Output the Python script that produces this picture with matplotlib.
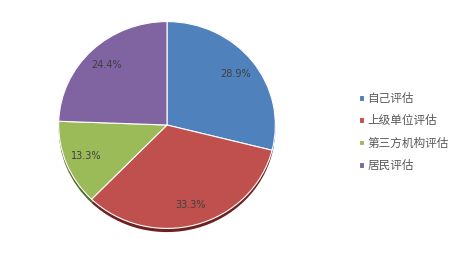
import matplotlib
matplotlib.use("Agg")
import matplotlib.pyplot as plt

plt.rcParams['font.family'] = ['Noto Sans CJK SC', 'DejaVu Sans']

# data
labels = ['自己评估', '上级单位评估', '第三方机构评估', '居民评估']
values = [28.9, 33.3, 13.3, 24.4]
colors = ['#4F81BD', '#C0504D', '#9BBB59', '#8064A2']
shadow_colors = ['#2c4a6e', '#6e2220', '#55692c', '#46365c']

W, H = 465, 265
fig = plt.figure(figsize=(W / 100, H / 100), dpi=100)

# pie centre / radii in pixels
cx, cy, rx, ry = 167, 125, 110, 105
ax = fig.add_axes([(cx - rx) / W, (H - cy - ry) / H, 2 * rx / W, 2 * ry / H])

# darker copy slightly below, gives the shadowed edge
ax.pie(values, colors=shadow_colors, startangle=90, counterclock=False,
       center=(0, -0.035), radius=0.985,
       wedgeprops=dict(linewidth=0))

wedges, texts, autotexts = ax.pie(
    values, colors=colors, startangle=90, counterclock=False,
    autopct='%.1f%%', pctdistance=0.8, radius=0.985,
    wedgeprops=dict(edgecolor='white', linewidth=0.8),
    textprops=dict(color='#404040', fontsize=7))
for t in autotexts:
    t.set_family(['DejaVu Sans'])

ax.set_aspect('auto')
ax.set_xlim(-1, 1)
ax.set_ylim(-1, 1)
ax.axis('off')

fig.legend(wedges, labels, loc='upper left', bbox_to_anchor=(359 / W, 1 - 92 / H),
           frameon=False, fontsize=8.4, labelcolor='#595959',
           handlelength=0.4, handleheight=0.4, handletextpad=0.3,
           labelspacing=0.8, borderpad=0, borderaxespad=0)

fig.savefig('out.png', dpi=100, facecolor='white')
